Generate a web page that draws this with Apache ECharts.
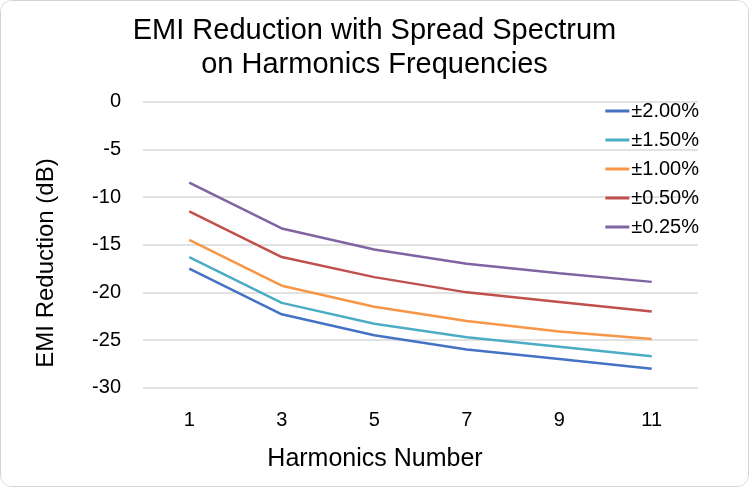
<!DOCTYPE html>
<html><head><meta charset="utf-8">
<script src="https://cdn.jsdelivr.net/npm/echarts@6/dist/echarts.min.js"></script>
<style>
html,body{margin:0;padding:0;background:#fff;}
#c{position:absolute;left:0;top:0;width:747px;height:485px;border:1px solid #d4d4d4;border-radius:12px;overflow:hidden;}
</style></head>
<body><div id="c"></div>
<script>
const categories = ['1','3','5','7','9','11'];
const seriesNames = ['±2.00%','±1.50%','±1.00%','±0.50%','±0.25%'];
const s200 = [-17.5,-22.3,-24.5,-26.0,-27.0,-28.0];
const s150 = [-16.3,-21.1,-23.3,-24.7,-25.7,-26.7];
const s100 = [-14.5,-19.3,-21.5,-23.0,-24.1,-24.9];
const s050 = [-11.5,-16.3,-18.4,-20.0,-21.0,-22.0];
const s025 = [-8.5,-13.3,-15.5,-17.0,-18.0,-18.9];
const colors = ['#4472c4','#4bacc6','#f79646','#c0504d','#8064a2'];
const allData = [s200,s150,s100,s050,s025];
const font = 'Liberation Sans, Arial, sans-serif';
const chart = echarts.init(document.getElementById('c'), null, {renderer:'canvas'});
chart.setOption({
  backgroundColor:'#fff',
  animation:false,
  title:{text:'EMI Reduction with Spread Spectrum\non Harmonics Frequencies',left:'center',top:8,
    textStyle:{fontFamily:font,fontSize:29,fontWeight:'normal',color:'#000',lineHeight:34}},
  legend:{orient:'vertical',right:44,top:95,itemGap:9,itemWidth:24,itemHeight:3,icon:'rect',
    textStyle:{fontFamily:font,fontSize:20,color:'#000',padding:[0,0,0,-3]},
    data:seriesNames},
  graphic:[
    {type:'text',x:374,y:458,style:{text:'Harmonics Number',fontFamily:font,fontSize:25,fill:'#000',textAlign:'center',textVerticalAlign:'middle'}},
    {type:'text',x:45,y:262,rotation:Math.PI/2,style:{text:'EMI Reduction (dB)',fontFamily:font,fontSize:24,fill:'#000',textAlign:'center',textVerticalAlign:'middle'}}
  ],
  grid:{left:142,right:50,top:100.7,bottom:98.3,containLabel:false},
  xAxis:{type:'category',data:categories,boundaryGap:true,
    axisLine:{show:false},axisTick:{show:false},
    axisLabel:{fontFamily:font,fontSize:20,color:'#000',margin:23}},
  yAxis:{type:'value',min:-30,max:0,interval:5,
    axisLine:{show:false},axisTick:{show:false},
    axisLabel:{fontFamily:font,fontSize:20,color:'#000',margin:22},
    splitLine:{lineStyle:{color:'#d9d9d9',width:1.5}}},
  series: seriesNames.map((n,i)=>({name:n,type:'line',data:allData[i],symbol:'none',
    lineStyle:{width:2.5,color:colors[i]},itemStyle:{color:colors[i]}}))
});
</script></body></html>
